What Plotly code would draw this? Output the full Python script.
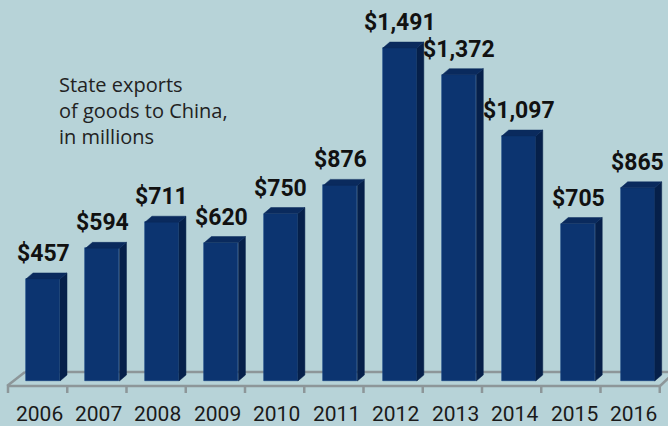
import plotly.graph_objects as go

years = ["2006", "2007", "2008", "2009", "2010", "2011", "2012", "2013", "2014", "2015", "2016"]
values = [457, 594, 711, 620, 750, 876, 1491, 1372, 1097, 705, 865]
labels = ["$457", "$594", "$711", "$620", "$750", "$876", "$1,491", "$1,372", "$1,097", "$705", "$865"]
note_lines = ["State exports", "of goods to China,", "in millions"]

W, H = 668, 426
PX_PER_X = 59.47          # pixels per category step
X0_PX = 43                # pixel centre of first bar front
PX_PER_Y = 0.2233         # pixels per $1M
BASE_PX = 381             # pixel row of zero

xr = [-X0_PX / PX_PER_X, (W - X0_PX) / PX_PER_X]
yr = [-(H - BASE_PX) / PX_PER_Y, BASE_PX / PX_PER_Y]

def xd(px):
    return (px - X0_PX) / PX_PER_X

def yd(py):
    return (BASE_PX - py) / PX_PER_Y

xs = list(range(len(values)))
bw = 34 / PX_PER_X
dx = 7 / PX_PER_X
dy = 6 / PX_PER_Y

BG = "#b7d3d8"
FRONT = "#0c3470"
SIDE = "#06204a"
TOP = "#0a2a5d"
GRAY = "#8d9699"

fig = go.Figure()

# side faces and top faces built from the data values
sx, sy, tx, ty = [], [], [], []
for x, v in zip(xs, values):
    r = x + bw / 2
    l = x - bw / 2
    sx += [r, r + dx, r + dx, r, r, None]
    sy += [0, dy, v + dy, v, 0, None]
    tx += [l, r, r + dx, l + dx, l, None]
    ty += [v, v, v + dy, v + dy, v, None]

fig.add_trace(go.Bar(x=xs, y=values, width=bw, marker=dict(color=FRONT, line=dict(width=0.6, color="#13407f")),
                     hoverinfo="skip", showlegend=False))
fig.add_trace(go.Scatter(x=sx, y=sy, fill="toself", fillcolor=SIDE, mode="lines",
                         line=dict(width=0.5, color=SIDE), hoverinfo="skip", showlegend=False))
fig.add_trace(go.Scatter(x=tx, y=ty, fill="toself", fillcolor=TOP, mode="lines",
                         line=dict(width=0.5, color=TOP), hoverinfo="skip", showlegend=False))

# floor
shapes = []
floor_front_y = yd(386)
floor_back_y = yd(372)
line_style = dict(color=GRAY, width=2.5)
shapes.append(dict(type="line", xref="x", yref="y", layer="below",
                   x0=xd(7), y0=floor_front_y, x1=xd(660), y1=floor_front_y, line=line_style))
shapes.append(dict(type="line", xref="x", yref="y", layer="below",
                   x0=xd(25), y0=floor_back_y, x1=xd(668), y1=floor_back_y, line=line_style))
shapes.append(dict(type="line", xref="x", yref="y", layer="below",
                   x0=xd(7), y0=floor_front_y, x1=xd(25), y1=floor_back_y, line=line_style))
shapes.append(dict(type="line", xref="x", yref="y", layer="below",
                   x0=xd(660), y0=floor_front_y, x1=xd(675), y1=yd(372), line=line_style))
for k in range(len(values) + 1):
    tpx = 8 + 59.25 * k
    shapes.append(dict(type="line", xref="x", yref="y", layer="below",
                       x0=xd(tpx), y0=floor_front_y, x1=xd(tpx), y1=yd(393), line=line_style))

annotations = []
for x, v, lab in zip(xs, values, labels):
    annotations.append(dict(x=x, y=v, xref="x", yref="y", text=lab, showarrow=False,
                            xanchor="center", yanchor="bottom", yshift=10,
                            font=dict(family="Roboto", size=23, color="#111111", weight="bold")))
for x, yr_lab in zip(xs, years):
    annotations.append(dict(x=x, y=yd(414), xref="x", yref="y", text=yr_lab, showarrow=False,
                            xanchor="center", yanchor="middle", xshift=-4,
                            font=dict(family="Roboto", size=21, color="#1a1a1a")))

annotations.append(dict(x=57 / W, y=1 - 69 / H, xref="paper", yref="paper",
                        text="<br>".join(note_lines), showarrow=False,
                        xanchor="left", yanchor="top", align="left",
                        font=dict(family="Open Sans", size=20, color="#222222")))

fig.update_layout(
    width=W, height=H,
    margin=dict(l=0, r=0, t=0, b=0),
    paper_bgcolor=BG, plot_bgcolor=BG,
    xaxis=dict(range=xr, visible=False, fixedrange=True),
    yaxis=dict(range=yr, visible=False, fixedrange=True),
    shapes=shapes, annotations=annotations,
    bargap=0,
)

fig.write_html("out.html", config={"displayModeBar": False},
               post_script="document.body.style.margin='0';document.body.style.overflow='hidden';document.body.style.background='" + BG + "';")
